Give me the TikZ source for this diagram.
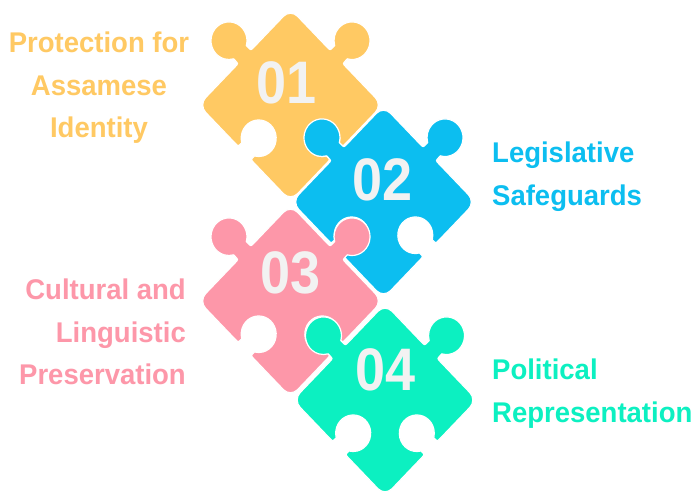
\documentclass[tikz,border=0pt]{standalone}
\usepackage{fontspec}
\setmainfont{Liberation Sans}
\newfontfamily\lblfont{Liberation Sans}[FakeStretch=0.965]
\newfontfamily\numfont{Liberation Sans}[FakeStretch=0.9]
\definecolor{pyel}{RGB}{255,201,99}
\definecolor{pblu}{RGB}{12,190,240}
\definecolor{ppnk}{RGB}{253,151,169}
\definecolor{pgrn}{RGB}{12,240,193}
\definecolor{digit}{RGB}{242,242,242}
\newcommand{\piecepath}{%
(-55,-65) -- (-13,-65) .. controls (-9,-65) .. (-9,-61) -- (-9,-60)
 arc[start angle=239.04, end angle=-59.04, radius=17.5]
 -- (9,-61) .. controls (9,-65) .. (13,-65)
 -- (55,-65) arc[start angle=-90, end angle=0, radius=10]
 -- (65,-13) .. controls (65,-9) .. (69,-9) -- (71.41,-9)
 arc[start angle=-150, end angle=150, radius=18]
 -- (69,9) .. controls (65,9) .. (65,13)
 -- (65,55) arc[start angle=0, end angle=90, radius=10]
 -- (13,65) .. controls (9,65) .. (9,69) -- (9,71.41)
 arc[start angle=-60, end angle=240, radius=18]
 -- (-9,69) .. controls (-9,65) .. (-13,65)
 -- (-55,65) arc[start angle=90, end angle=180, radius=10]
 -- (-65,13) .. controls (-65,9) .. (-61,9) -- (-60,9)
 arc[start angle=149.04, end angle=-149.04, radius=17.5]
 -- (-61,-9) .. controls (-65,-9) .. (-65,-13)
 -- (-65,-55) arc[start angle=180, end angle=270, radius=10] -- cycle}
\newcommand{\puzzlepiece}[3]{%
 \begin{scope}[shift={(#1,#2)}, yscale=1.045, rotate=45]
  \filldraw[fill=#3, draw=white, line width=1.2pt] \piecepath;
 \end{scope}}
\tikzset{
 num/.style={font=\numfont\fontsize{60}{60}\selectfont\bfseries, text=digit, inner sep=0pt},
 lbl/.style={font=\lblfont\fontsize{28.5}{42.5}\selectfont\bfseries, inner sep=0pt}
}
\begin{document}
\begin{tikzpicture}[x=1pt,y=1pt]
\fill[white] (0,0) rectangle (697,492);
\useasboundingbox (0,0) rectangle (697,492);
\puzzlepiece{290.5}{387}{pyel}
\puzzlepiece{383.5}{290}{pblu}
\puzzlepiece{290.5}{191}{ppnk}
\puzzlepiece{385}{92}{pgrn}
\node[num] (n1) at (287,408.7) {01};
\node[num] (n2) at (383,312.5) {02};
\node[num] (n3) at (291,219) {03};
\node[num] (n4) at (386,122) {04};
\node[lbl, text=pyel, align=center, anchor=north] (t1) at (99,460) {Protection for\\Assamese\\Identity};
\node[lbl, text=pblu, align=left, anchor=north west] (t2) at (492,350) {Legislative\\Safeguards};
\node[lbl, text=ppnk, align=right, anchor=north east] (t3) at (186,213) {Cultural and\\Linguistic\\Preservation};
\node[lbl, text=pgrn, align=left, anchor=north west] (t4) at (492,133) {Political\\Representation};
\end{tikzpicture}
\end{document}
